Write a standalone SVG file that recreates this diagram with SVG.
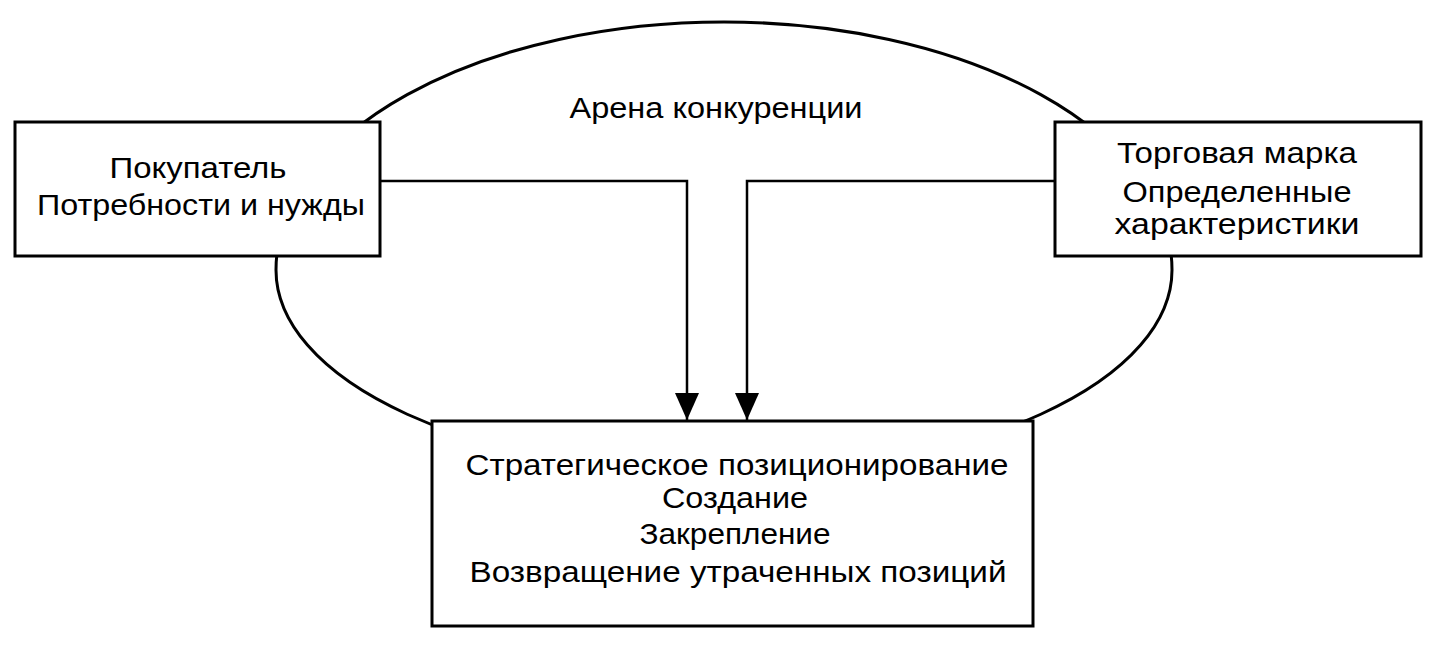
<svg xmlns="http://www.w3.org/2000/svg" width="1436" height="652" viewBox="0 0 1436 652">
  <style>
    .box { fill: #ffffff; stroke: #000000; stroke-width: 3; }
    .arena { fill: none; stroke: #000000; stroke-width: 3; }
    .conn { fill: none; stroke: #000000; stroke-width: 2.5; }
    .t { font-family: "Liberation Sans", Arial, sans-serif; font-size: 29px; fill: #000000; text-anchor: middle; }
  </style>
  <defs>
    <marker id="arrow" markerUnits="userSpaceOnUse" viewBox="0 -12 27 24" refX="27" refY="0" markerWidth="27" markerHeight="24" orient="auto">
      <path d="M0,-12 L27,0 L0,12 z" fill="#000000"/>
    </marker>
  </defs>
  <rect width="1436" height="652" fill="#ffffff"/>

  <g id="arena">
    <path class="arena" d="M276,270 A448,248 0 0 1 1172,270 A448,204 0 0 1 276,270 Z"/>
    <text class="t" x="716" y="118" textLength="293" lengthAdjust="spacingAndGlyphs">Арена конкуренции</text>
  </g>

  <g id="connectors">
    <polyline class="conn" points="380,181 687,181 687,420" marker-end="url(#arrow)"/>
    <polyline class="conn" points="1055,181 747,181 747,420" marker-end="url(#arrow)"/>
  </g>

  <g id="buyer">
    <rect class="box" x="15" y="122" width="365" height="134"/>
    <text class="t" x="198" y="178" textLength="177" lengthAdjust="spacingAndGlyphs">Покупатель</text>
    <text class="t" x="201" y="215" textLength="328" lengthAdjust="spacingAndGlyphs">Потребности и нужды</text>
  </g>

  <g id="brand">
    <rect class="box" x="1055" y="122" width="366" height="134"/>
    <text class="t" x="1237" y="163" textLength="240" lengthAdjust="spacingAndGlyphs">Торговая марка</text>
    <text class="t" x="1237" y="202" textLength="229" lengthAdjust="spacingAndGlyphs">Определенные</text>
    <text class="t" x="1237" y="234" textLength="245" lengthAdjust="spacingAndGlyphs">характеристики</text>
  </g>

  <g id="positioning">
    <rect class="box" x="432" y="421" width="601" height="205"/>
    <text class="t" x="737" y="475" textLength="543" lengthAdjust="spacingAndGlyphs">Стратегическое позиционирование</text>
    <text class="t" x="735" y="508" textLength="146" lengthAdjust="spacingAndGlyphs">Создание</text>
    <text class="t" x="735" y="544" textLength="191" lengthAdjust="spacingAndGlyphs">Закрепление</text>
    <text class="t" x="738" y="582" textLength="537" lengthAdjust="spacingAndGlyphs">Возвращение утраченных позиций</text>
  </g>
</svg>
